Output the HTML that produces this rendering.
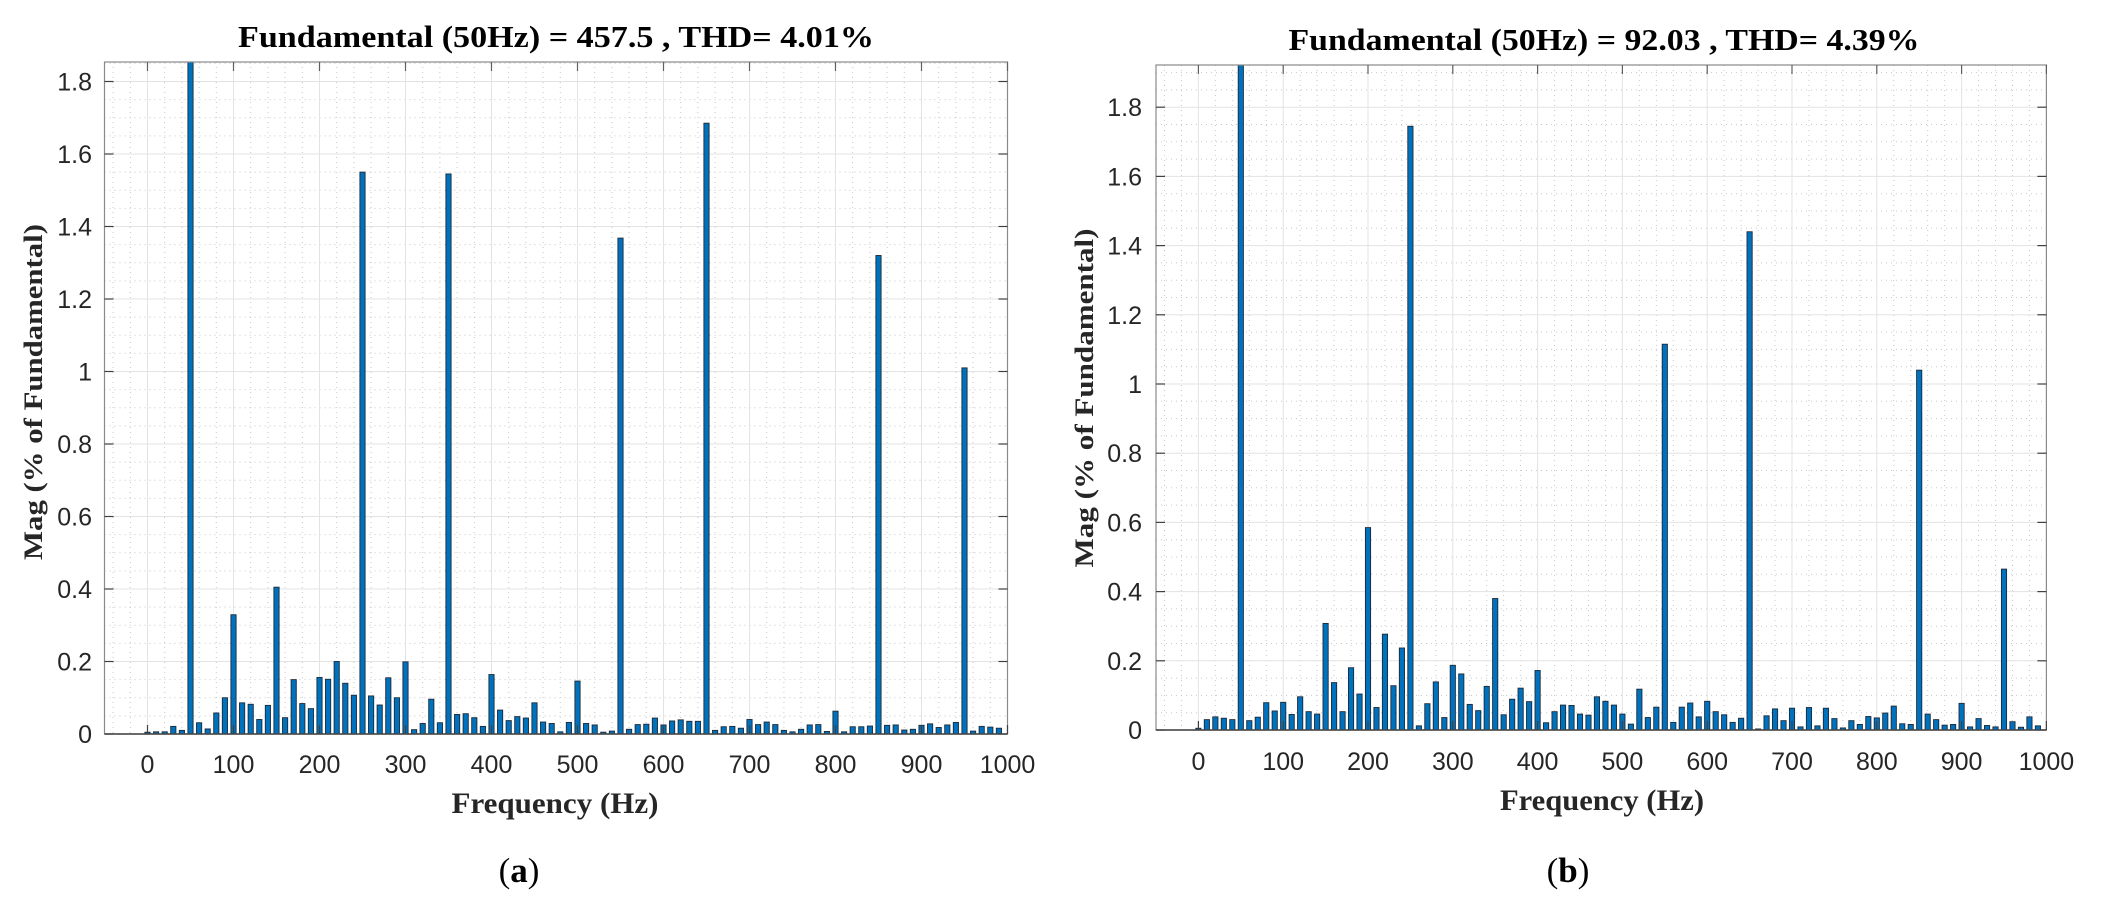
<!DOCTYPE html>
<html><head><meta charset="utf-8"><style>
html,body{margin:0;padding:0;background:#fff;}
svg{display:block;}
.tk{font-family:"Liberation Sans Narrow","Liberation Sans",sans-serif;font-size:25px;fill:#262626;}
.tt{font-family:"Liberation Serif",serif;font-weight:bold;font-size:31px;fill:#000;}
.lb{font-family:"Liberation Serif",serif;font-weight:bold;font-size:26px;fill:#262626;}
.cap{font-family:"Liberation Serif",serif;font-size:35px;fill:#000;}
</style></head><body>
<svg id="s" width="2102" height="910" viewBox="0 0 2102 910" xmlns="http://www.w3.org/2000/svg">
<g id="ga"></g><g id="gb"></g>
<text class="tt" x="556" y="47" text-anchor="middle" textLength="636" lengthAdjust="spacingAndGlyphs">Fundamental (50Hz) = 457.5 , THD= 4.01%</text>
<text class="tt" x="1604" y="50" text-anchor="middle" textLength="631" lengthAdjust="spacingAndGlyphs">Fundamental (50Hz) = 92.03 , THD= 4.39%</text>
<text class="lb" transform="translate(42,392) rotate(-90)" text-anchor="middle" textLength="336" lengthAdjust="spacingAndGlyphs">Mag (% of Fundamental)</text>
<text class="lb" transform="translate(1093,398) rotate(-90)" text-anchor="middle" textLength="339" lengthAdjust="spacingAndGlyphs">Mag (% of Fundamental)</text>
<text class="lb" x="555" y="813" text-anchor="middle" textLength="207" lengthAdjust="spacingAndGlyphs" style="font-size:30px">Frequency (Hz)</text>
<text class="lb" x="1602" y="810" text-anchor="middle" textLength="204" lengthAdjust="spacingAndGlyphs" style="font-size:30px">Frequency (Hz)</text>
<text class="cap" x="519" y="882" text-anchor="middle">(<tspan font-weight="bold">a</tspan>)</text>
<text class="cap" x="1568" y="882" text-anchor="middle">(<tspan font-weight="bold">b</tspan>)</text>
<g class="tk" text-anchor="middle">
<text x="147.5" y="773">0</text><text x="233.5" y="773">100</text><text x="319.5" y="773">200</text><text x="405.5" y="773">300</text><text x="491.5" y="773">400</text><text x="577.5" y="773">500</text><text x="663.5" y="773">600</text><text x="749.5" y="773">700</text><text x="835.5" y="773">800</text><text x="921.5" y="773">900</text><text x="1007.5" y="773">1000</text>
</g>
<g class="tk" text-anchor="end">
<text x="92" y="743">0</text><text x="92" y="670.5">0.2</text><text x="92" y="598">0.4</text><text x="92" y="525.5">0.6</text><text x="92" y="453">0.8</text><text x="92" y="380.5">1</text><text x="92" y="308">1.2</text><text x="92" y="235.5">1.4</text><text x="92" y="163">1.6</text><text x="92" y="90.5">1.8</text>
</g>
<g class="tk" text-anchor="middle">
<text x="1198.4" y="770">0</text><text x="1283.2" y="770">100</text><text x="1368" y="770">200</text><text x="1452.8" y="770">300</text><text x="1537.6" y="770">400</text><text x="1622.4" y="770">500</text><text x="1707.2" y="770">600</text><text x="1792" y="770">700</text><text x="1876.8" y="770">800</text><text x="1961.6" y="770">900</text><text x="2046.4" y="770">1000</text>
</g>
<g class="tk" text-anchor="end">
<text x="1142" y="739">0</text><text x="1142" y="669.8">0.2</text><text x="1142" y="600.6">0.4</text><text x="1142" y="531.4">0.6</text><text x="1142" y="462.2">0.8</text><text x="1142" y="393">1</text><text x="1142" y="323.8">1.2</text><text x="1142" y="254.6">1.4</text><text x="1142" y="185.4">1.6</text><text x="1142" y="116.2">1.8</text>
</g>
</svg>
<script>
var NS="http://www.w3.org/2000/svg";
function el(g,t,a){var e=document.createElementNS(NS,t);for(var k in a)e.setAttribute(k,a[k]);g.appendChild(e);return e;}
function plot(gid,L,S,Z,U,T,vals){
 var g=document.getElementById(gid);
 var R=L+S*1050, B=Z;
 var X=function(f){return L+(f+50)*S;}, Y=function(v){return Z-v*U;};
 for(var f=-40;f<1000;f+=20){ if(f%100===0)continue; el(g,'line',{x1:X(f),x2:X(f),y1:T,y2:B,stroke:'#c8c8c8','stroke-width':1,'stroke-dasharray':'1 4'});}
 for(var v=0.05;Y(v)>T;v+=0.05){ if(Math.abs(v*5-Math.round(v*5))<1e-6)continue; el(g,'line',{x1:L,x2:R,y1:Y(v),y2:Y(v),stroke:'#c8c8c8','stroke-width':1,'stroke-dasharray':'1 4'});}
 for(var f=0;f<1000;f+=100) el(g,'line',{x1:X(f),x2:X(f),y1:T,y2:B,stroke:'#e3e3e3','stroke-width':1});
 for(var i=1;i<=9;i++) if(Y(i*0.2)>T) el(g,'line',{x1:L,x2:R,y1:Y(i*0.2),y2:Y(i*0.2),stroke:'#e3e3e3','stroke-width':1});
 for(var i=0;i<vals.length;i++){var v=vals[i];var top=Math.max(T,Y(v));var x=X(i*10)-2.6;
  el(g,'rect',{x:x,y:top,width:5.2,height:Math.max(0.8,B-top),fill:'#0072BD',stroke:'#1b2a3a','stroke-width':0.9});}
 el(g,'rect',{x:L,y:T,width:R-L,height:B-T,fill:'none',stroke:'#8a8a8a','stroke-width':1.2});
 el(g,'line',{x1:L,x2:R,y1:B,y2:B,stroke:'#404040','stroke-width':1.6});
 for(var f=0;f<=1000;f+=100){el(g,'line',{x1:X(f),x2:X(f),y1:B,y2:B-9,stroke:'#404040','stroke-width':1.2});el(g,'line',{x1:X(f),x2:X(f),y1:T,y2:T+9,stroke:'#606060','stroke-width':1.2});}
 for(var i=0;i<=9;i++) if(Y(i*0.2)>=T){el(g,'line',{x1:L,x2:L+9,y1:Y(i*0.2),y2:Y(i*0.2),stroke:'#404040','stroke-width':1.2});el(g,'line',{x1:R,x2:R-9,y1:Y(i*0.2),y2:Y(i*0.2),stroke:'#404040','stroke-width':1.2});}
}
var A=[0.005,0.006,0.006,0.021,0.01,5,0.031,0.014,0.058,0.1,0.329,0.086,0.082,0.04,0.079,0.405,0.045,0.15,0.084,0.07,
0.156,0.151,0.2,0.14,0.107,1.55,0.105,0.08,0.155,0.1,0.199,0.012,0.029,0.096,0.031,1.545,0.054,0.056,0.045,0.021,
0.164,0.066,0.037,0.048,0.044,0.086,0.033,0.029,0.006,0.032,0.146,0.029,0.025,0.005,0.008,1.368,0.013,0.026,0.027,0.044,
0.025,0.036,0.039,0.035,0.035,1.685,0.01,0.02,0.021,0.016,0.04,0.026,0.033,0.026,0.01,0.006,0.013,0.025,0.026,0.007,
0.063,0.006,0.02,0.02,0.022,1.32,0.024,0.025,0.011,0.013,0.024,0.028,0.018,0.025,0.032,1.01,0.008,0.021,0.019,0.016];
var Bv=[0.005,0.03,0.038,0.034,0.03,5,0.027,0.037,0.079,0.055,0.08,0.045,0.096,0.053,0.046,0.308,0.137,0.053,0.18,0.104,
0.585,0.065,0.277,0.128,0.237,1.745,0.012,0.076,0.139,0.036,0.187,0.162,0.074,0.056,0.126,0.38,0.044,0.089,0.121,0.082,
0.172,0.021,0.053,0.072,0.071,0.046,0.043,0.096,0.083,0.072,0.046,0.017,0.118,0.036,0.066,1.115,0.022,0.066,0.078,0.038,
0.083,0.053,0.044,0.022,0.034,1.44,0.003,0.041,0.061,0.027,0.063,0.009,0.065,0.012,0.063,0.033,0.006,0.027,0.016,0.039,
0.035,0.049,0.069,0.018,0.016,1.04,0.046,0.03,0.014,0.016,0.077,0.009,0.033,0.013,0.009,0.465,0.024,0.008,0.038,0.012];
plot('ga',104.5,0.86,734,362.5,62,A);
plot('gb',1156,0.848,730,346,65,Bv);
</script>
</body></html>
